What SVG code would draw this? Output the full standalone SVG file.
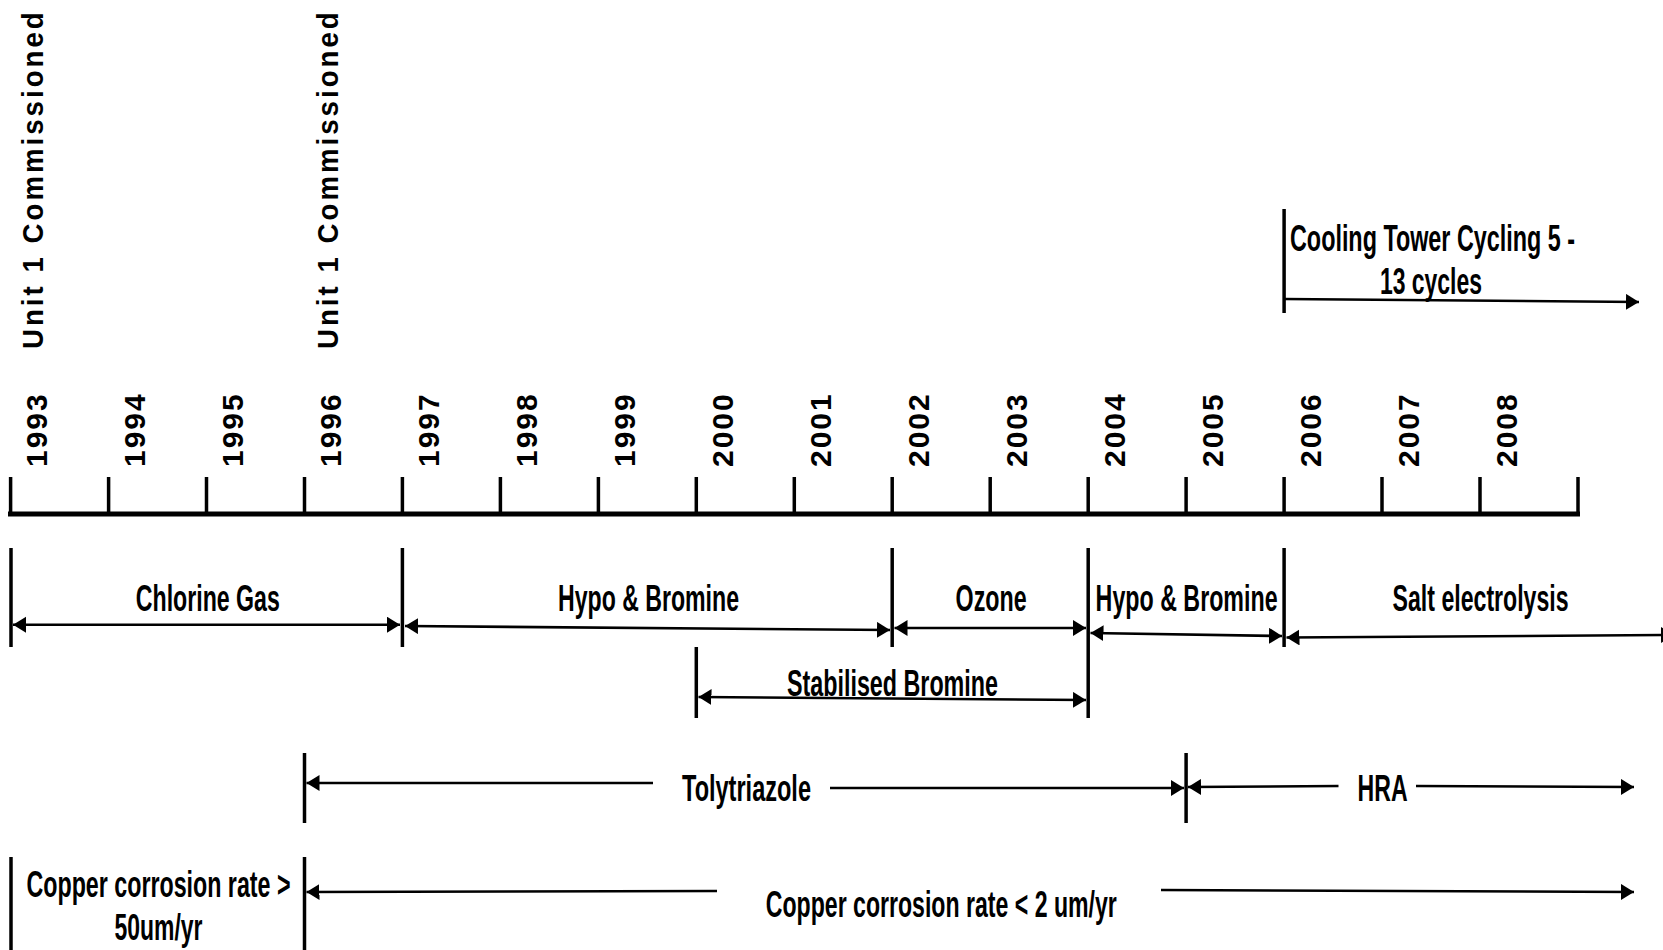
<svg xmlns="http://www.w3.org/2000/svg" width="1663" height="950" viewBox="0 0 1663 950">
<defs>
<style>
.yr{font-family:"Liberation Sans",Arial,sans-serif;font-weight:bold;font-size:30px;letter-spacing:2px;fill:#000}
.cm{font-family:"Liberation Sans",Arial,sans-serif;font-weight:bold;font-size:30px;letter-spacing:3.3px;fill:#000}
.lbl{font-family:"Liberation Sans",Arial,sans-serif;font-weight:bold;font-size:23.2px;fill:#000}
.axis{stroke:#000;stroke-width:5;fill:none}
.tick{stroke:#000;stroke-width:3.5;fill:none}
.bound{stroke:#000;stroke-width:3.5;fill:none}
.arr{stroke:#000;stroke-width:2.6;fill:none;marker-end:url(#ah)}
.arr2{stroke:#000;stroke-width:2.6;fill:none;marker-start:url(#ah);marker-end:url(#ah)}
.arrs{stroke:#000;stroke-width:2.6;fill:none;marker-start:url(#ah)}
</style>
<marker id="ah" markerUnits="userSpaceOnUse" markerWidth="14" markerHeight="17" refX="13" refY="8" orient="auto-start-reverse" viewBox="0 0 14 17">
<path d="M0,0 L13,8 L0,16 z" fill="#000"/>
</marker>
</defs>
<rect width="1663" height="950" fill="#fff"/>

<g id="commissioned-1">
<text class="cm" transform="translate(43.3,349) rotate(-90) scale(0.92,1)">Unit 1 Commissioned</text>
</g>
<g id="commissioned-2">
<text class="cm" transform="translate(337.5,349) rotate(-90) scale(0.92,1)">Unit 1 Commissioned</text>
</g>

<g id="timeline-axis">
<line class="axis" x1="8" y1="514" x2="1580" y2="514"/>
<line class="tick" x1="10.6" y1="477" x2="10.6" y2="514"/>
<line class="tick" x1="108.6" y1="477" x2="108.6" y2="514"/>
<line class="tick" x1="206.5" y1="477" x2="206.5" y2="514"/>
<line class="tick" x1="304.5" y1="477" x2="304.5" y2="514"/>
<line class="tick" x1="402.4" y1="477" x2="402.4" y2="514"/>
<line class="tick" x1="500.4" y1="477" x2="500.4" y2="514"/>
<line class="tick" x1="598.4" y1="477" x2="598.4" y2="514"/>
<line class="tick" x1="696.3" y1="477" x2="696.3" y2="514"/>
<line class="tick" x1="794.3" y1="477" x2="794.3" y2="514"/>
<line class="tick" x1="892.2" y1="477" x2="892.2" y2="514"/>
<line class="tick" x1="990.2" y1="477" x2="990.2" y2="514"/>
<line class="tick" x1="1088.2" y1="477" x2="1088.2" y2="514"/>
<line class="tick" x1="1186.1" y1="477" x2="1186.1" y2="514"/>
<line class="tick" x1="1284.1" y1="477" x2="1284.1" y2="514"/>
<line class="tick" x1="1382" y1="477" x2="1382" y2="514"/>
<line class="tick" x1="1480" y1="477" x2="1480" y2="514"/>
<line class="tick" x1="1578" y1="477" x2="1578" y2="514"/>
</g>

<g id="years">
<text class="yr" transform="translate(47.3,467) rotate(-90)">1993</text>
<text class="yr" transform="translate(145.3,467) rotate(-90)">1994</text>
<text class="yr" transform="translate(243.2,467) rotate(-90)">1995</text>
<text class="yr" transform="translate(341.2,467) rotate(-90)">1996</text>
<text class="yr" transform="translate(439.1,467) rotate(-90)">1997</text>
<text class="yr" transform="translate(537.1,467) rotate(-90)">1998</text>
<text class="yr" transform="translate(635.1,467) rotate(-90)">1999</text>
<text class="yr" transform="translate(733,467) rotate(-90)">2000</text>
<text class="yr" transform="translate(831,467) rotate(-90)">2001</text>
<text class="yr" transform="translate(928.9,467) rotate(-90)">2002</text>
<text class="yr" transform="translate(1026.9,467) rotate(-90)">2003</text>
<text class="yr" transform="translate(1124.9,467) rotate(-90)">2004</text>
<text class="yr" transform="translate(1222.8,467) rotate(-90)">2005</text>
<text class="yr" transform="translate(1320.8,467) rotate(-90)">2006</text>
<text class="yr" transform="translate(1418.7,467) rotate(-90)">2007</text>
<text class="yr" transform="translate(1516.7,467) rotate(-90)">2008</text>
</g>

<g id="boundaries">
<line class="bound" x1="11" y1="548" x2="11" y2="647"/>
<line class="bound" x1="402.4" y1="548" x2="402.4" y2="647"/>
<line class="bound" x1="892.2" y1="548" x2="892.2" y2="647"/>
<line class="bound" x1="1088.2" y1="548" x2="1088.2" y2="718"/>
<line class="bound" x1="1284.1" y1="548" x2="1284.1" y2="647"/>
<line class="bound" x1="696.3" y1="647" x2="696.3" y2="718"/>
<line class="bound" x1="304.5" y1="753" x2="304.5" y2="823"/>
<line class="bound" x1="1186.1" y1="753" x2="1186.1" y2="823"/>
<line class="bound" x1="11" y1="857" x2="11" y2="950"/>
<line class="bound" x1="304.5" y1="857" x2="304.5" y2="950"/>
<line class="bound" x1="1284.1" y1="209" x2="1284.1" y2="313"/>
</g>

<g id="connectors">
<line class="arr" x1="1284" y1="299" x2="1639" y2="302"/>
<line class="arr2" x1="13" y1="624.7" x2="400" y2="624.7"/>
<line class="arr2" x1="405" y1="626" x2="890" y2="630"/>
<line class="arr2" x1="894.5" y1="628" x2="1086" y2="628"/>
<line class="arr2" x1="1090.5" y1="633" x2="1282" y2="636"/>
<line class="arr2" x1="1286.5" y1="637.5" x2="1674" y2="635"/>
<line class="arr2" x1="698.5" y1="697" x2="1086" y2="700"/>
<line class="arrs" x1="306.5" y1="783" x2="653" y2="783"/>
<line class="arr" x1="830" y1="788" x2="1184" y2="788"/>
<line class="arrs" x1="1188" y1="787" x2="1338.5" y2="786"/>
<line class="arr" x1="1416" y1="786" x2="1634" y2="787"/>
<line class="arrs" x1="306.5" y1="892" x2="717" y2="891"/>
<line class="arr" x1="1161" y1="890" x2="1634" y2="892"/>
</g>

<g id="cooling-tower">
<text class="lbl" transform="translate(1290,251) scale(1,1.58)" textLength="285" lengthAdjust="spacingAndGlyphs">Cooling Tower Cycling 5 -</text>
<text class="lbl" transform="translate(1380,294) scale(1,1.58)" textLength="102" lengthAdjust="spacingAndGlyphs">13 cycles</text>
</g>
<g id="chlorine-gas">
<text class="lbl" transform="translate(135.8,611) scale(1,1.58)" textLength="144" lengthAdjust="spacingAndGlyphs">Chlorine Gas</text>
</g>
<g id="hypo-bromine-1">
<text class="lbl" transform="translate(558,611) scale(1,1.58)" textLength="181" lengthAdjust="spacingAndGlyphs">Hypo &amp; Bromine</text>
</g>
<g id="ozone">
<text class="lbl" transform="translate(955.6,611) scale(1,1.58)" textLength="71" lengthAdjust="spacingAndGlyphs">Ozone</text>
</g>
<g id="hypo-bromine-2">
<text class="lbl" transform="translate(1095.6,611) scale(1,1.58)" textLength="182" lengthAdjust="spacingAndGlyphs">Hypo &amp; Bromine</text>
</g>
<g id="salt-electrolysis">
<text class="lbl" transform="translate(1392.6,611) scale(1,1.58)" textLength="176" lengthAdjust="spacingAndGlyphs">Salt electrolysis</text>
</g>
<g id="stabilised-bromine">
<text class="lbl" transform="translate(787,696) scale(1,1.58)" textLength="211" lengthAdjust="spacingAndGlyphs">Stabilised Bromine</text>
</g>
<g id="tolytriazole">
<text class="lbl" transform="translate(682,801) scale(1,1.58)" textLength="129" lengthAdjust="spacingAndGlyphs">Tolytriazole</text>
</g>
<g id="hra">
<text class="lbl" transform="translate(1357.6,801) scale(1,1.58)" textLength="50" lengthAdjust="spacingAndGlyphs">HRA</text>
</g>
<g id="copper-high">
<text class="lbl" transform="translate(26.5,897) scale(1,1.58)" textLength="264" lengthAdjust="spacingAndGlyphs">Copper corrosion rate &gt;</text>
<text class="lbl" transform="translate(114.5,940) scale(1,1.58)" textLength="88" lengthAdjust="spacingAndGlyphs">50um/yr</text>
</g>
<g id="copper-low">
<text class="lbl" transform="translate(765.8,917) scale(1,1.58)" textLength="351" lengthAdjust="spacingAndGlyphs">Copper corrosion rate &lt; 2 um/yr</text>
</g>
</svg>
